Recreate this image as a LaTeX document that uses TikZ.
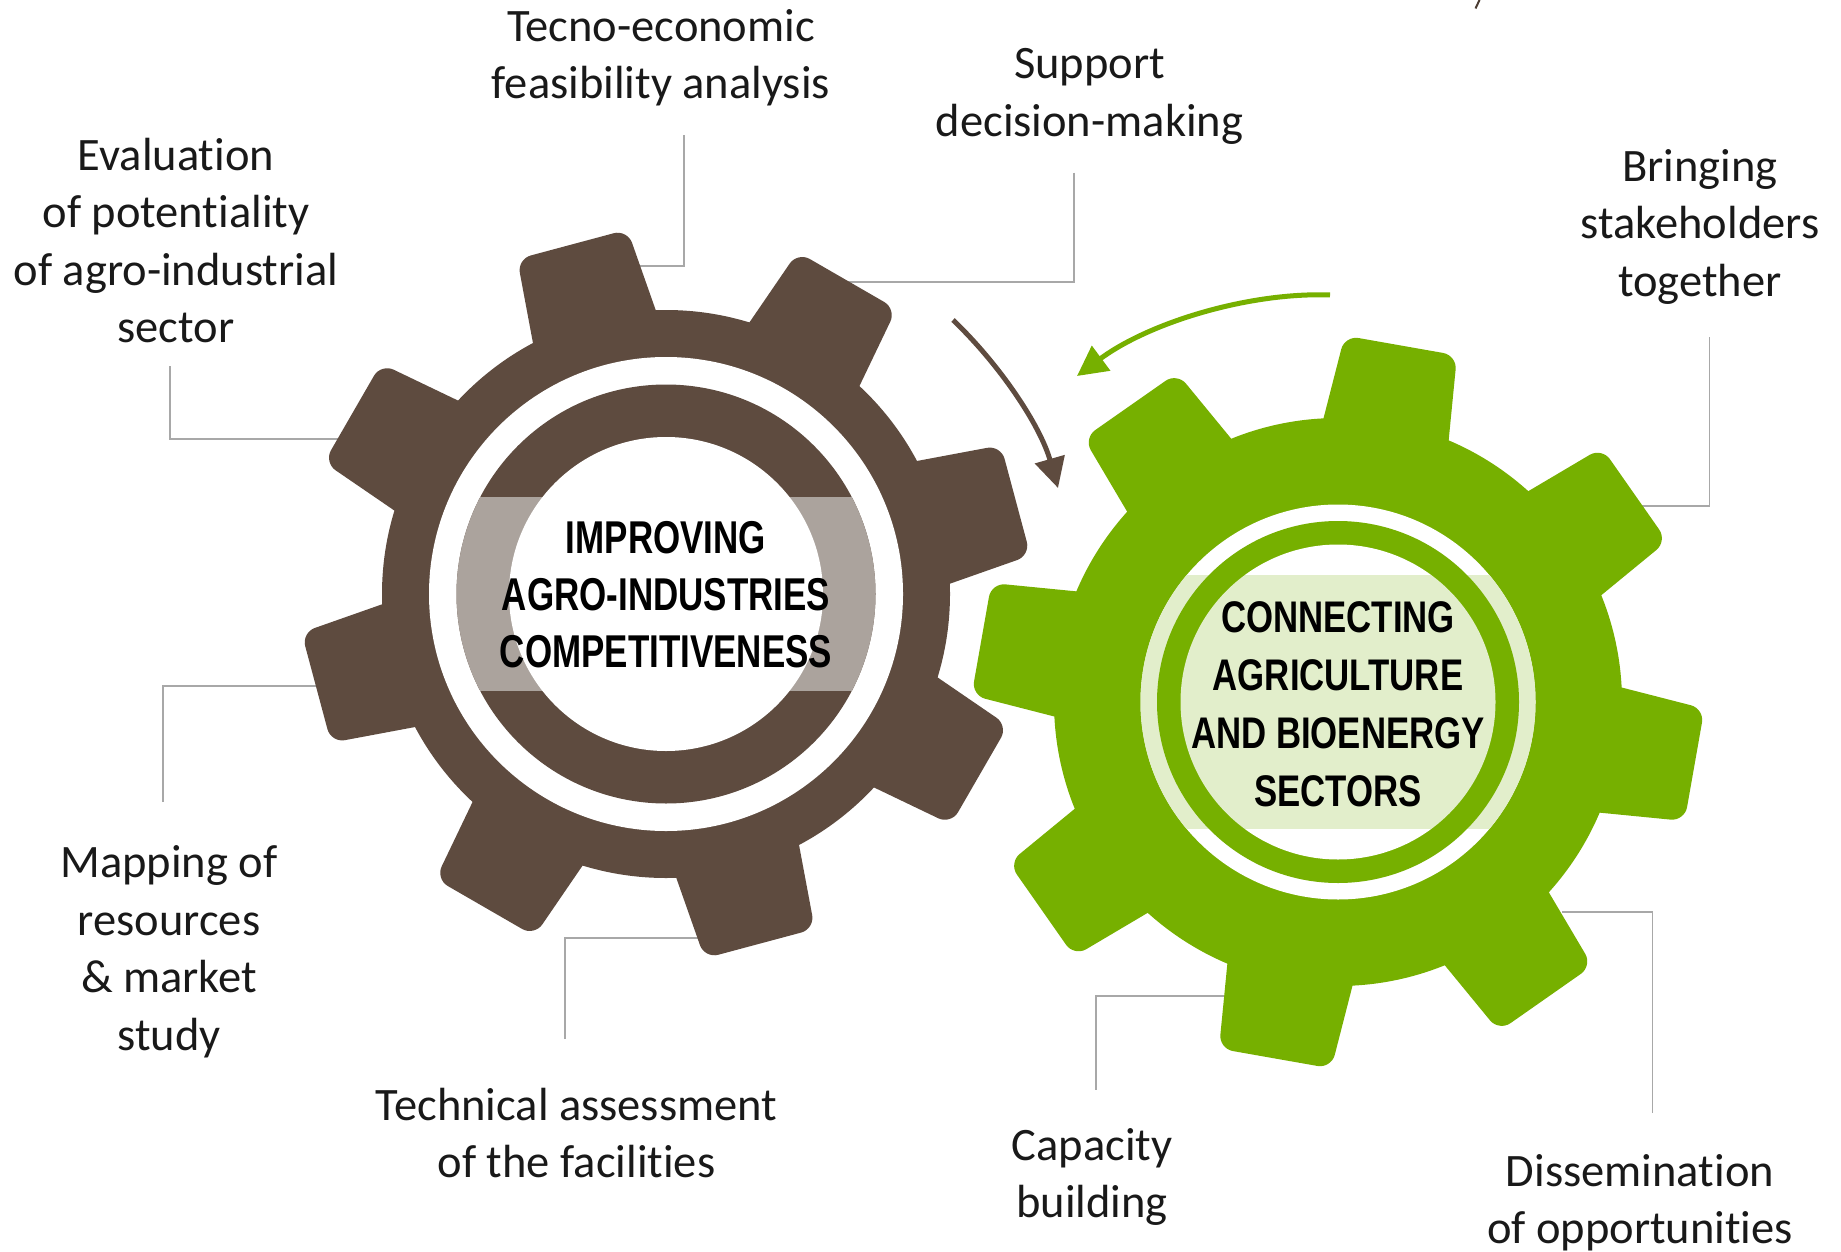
\documentclass[tikz,border=0pt]{standalone}
\usepackage{fontspec}
\setmainfont[Ligatures=CommonOff]{Carlito}
\newfontfamily\condA[FakeStretch=0.76]{Liberation Sans}
\newfontfamily\condB[FakeStretch=0.785]{Liberation Sans}
\usetikzlibrary{arrows.meta}
\definecolor{gbrown}{RGB}{94,75,63}
\definecolor{gband}{RGB}{171,163,157}
\definecolor{ggreen}{RGB}{118,176,0}
\definecolor{glight}{RGB}{226,238,203}
\definecolor{lineg}{RGB}{168,168,168}
\definecolor{ltext}{RGB}{25,25,25}
\newcommand\mytooth[2]{\fill[#1, rotate=#2, rounded corners=14pt] (250,-65.6) -- (362,-57) -- (362,57) -- (250,65.6) -- cycle;}
\begin{document}
\begin{tikzpicture}[x=1pt,y=-1pt,
  conn/.style={draw=lineg, line width=1.6pt},
  lbl/.style={align=center, inner sep=0pt, font=\fontsize{46.5}{57.5}\selectfont, text=ltext},
  gtxtA/.style={align=center, inner sep=0pt, font=\condA\bfseries\fontsize{46}{57.3}\selectfont, text=black},
  gtxtB/.style={align=center, inner sep=0pt, font=\condB\bfseries\fontsize{44.3}{57.7}\selectfont, text=black}]
\useasboundingbox (0,0) rectangle (1841,1252);

% labels
\node[lbl] (eval) at (176,245) {\strut Evaluation\\ of potentiality\\ of agro-industrial\\ sector\strut};
\node[lbl] (tecno) at (661,58.6) {\strut Tecno-economic\\ feasibility analysis\strut};
\node[lbl] (support) at (1089.5,96) {\strut Support\\ decision-making\strut};
\node[lbl] (bring) at (1700,227) {\strut Bringing\\ stakeholders\\ together\strut};
\node[lbl] (mapping) at (169,952.6) {\strut Mapping of\\ resources\\ \& market\\ study\strut};
\node[lbl] (techn) at (576.5,1137.5) {\strut Technical assessment\\ of the facilities\strut};
\node[lbl] (capac) at (1092,1177.4) {\strut Capacity\\ building\strut};
\node[lbl] (dissem) at (1640,1203.3) {\strut Dissemination\\ of opportunities\strut};

% connector end points
\coordinate (evalA) at (170,366);   \coordinate (evalB) at (340,439);
\coordinate (tecA) at (684,135);    \coordinate (tecB) at (630,266);
\coordinate (supA) at (1074,172.6); \coordinate (supB) at (840,281.7);
\coordinate (briA) at (1709.5,337); \coordinate (briB) at (1640,506);
\coordinate (mapA) at (163,802);    \coordinate (mapB) at (318,686);
\coordinate (tecnA) at (565,1039);  \coordinate (tecnB) at (700,938);
\coordinate (capA) at (1096,1089.5);\coordinate (capB) at (1224,996);
\coordinate (disA) at (1652.5,1113);\coordinate (disB) at (1562,912);

\draw[conn] (evalA) |- (evalB);
\draw[conn] (tecA) |- (tecB);
\draw[conn] (supA) |- (supB);
\draw[conn] (briA) |- (briB);
\draw[conn] (mapA) |- (mapB);
\draw[conn] (tecnA) |- (tecnB);
\draw[conn] (capA) |- (capB);
\draw[conn] (disA) |- (disB);

% left gear
\begin{scope}[shift={(666,594)}]
  \fill[gbrown] (0,0) circle (284);
  \foreach \k in {0,...,7} {\mytooth{gbrown}{15+45*\k}}
  \fill[white] (0,0) circle (237);
  \fill[gbrown] (0,0) circle (209.5);
  \begin{scope}
    \clip (0,0) circle (209.5);
    \fill[gband] (-240,-97) rectangle (240,97);
  \end{scope}
  \fill[white] (0,0) circle (157);
\end{scope}
\node[gtxtA] (gearA) at (666,599) {\strut IMPROVING\\ AGRO-INDUSTRIES\\ COMPETITIVENESS\strut};

% right gear
\begin{scope}[shift={(1338,702)}]
  \fill[ggreen] (0,0) circle (284);
  \foreach \k in {0,...,7} {\mytooth{ggreen}{35+45*\k}}
  \fill[white] (0,0) circle (197.5);
  \fill[ggreen] (0,0) circle (181);
  \fill[white] (0,0) circle (157.5);
  \begin{scope}
    \clip (-220,-126.5) rectangle (220,126.5);
    \fill[glight] (0,0) circle (197.5);
    \fill[ggreen] (0,0) circle (181);
    \fill[glight] (0,0) circle (157.5);
  \end{scope}
\end{scope}
\node[gtxtB] (gearB) at (1338,708) {\strut CONNECTING\\ AGRICULTURE\\ AND BIOENERGY\\ SECTORS\strut};

% rotation arrows
\coordinate (brA) at (953,320); \coordinate (brB) at (1058,488);
\draw[gbrown, line width=5pt, -{Triangle[length=30pt,width=30pt]}]
  (brA) .. controls (1000,365) and (1040,425) .. (brB);
\coordinate (grA) at (1330,295); \coordinate (grB) at (1077,376);
\draw[ggreen, line width=5pt, -{Triangle[length=30pt,width=30pt]}]
  (grA) .. controls (1250,292) and (1150,322) .. (grB);

% small fragment at top edge
\draw[gbrown!80!black, line width=2pt] (1479.5,0) -- (1475.5,8.5);
\end{tikzpicture}
\end{document}
